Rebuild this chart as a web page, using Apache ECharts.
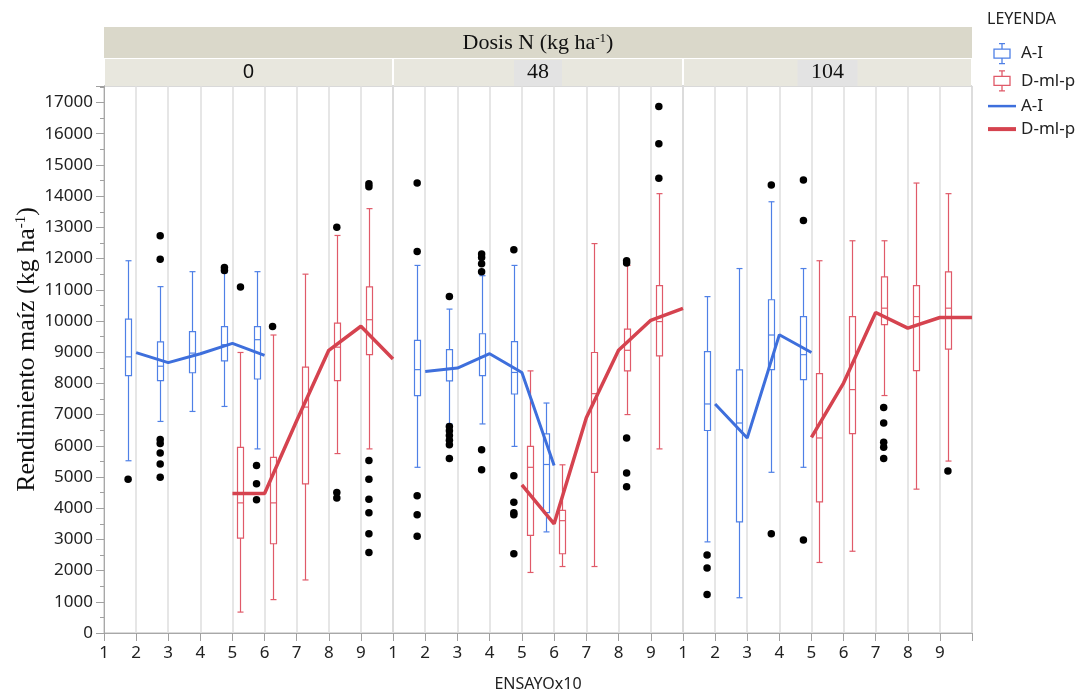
<!DOCTYPE html>
<html>
<head>
<meta charset="utf-8">
<title>Rendimiento maíz por ensayo</title>
<script src="https://cdn.jsdelivr.net/npm/echarts@6/dist/echarts.min.js"></script>
<style>
  html, body { margin: 0; padding: 0; background: #fff; }
  #main { width: 1077px; height: 693px; }
</style>
</head>
<body>
<div id="main"></div>
<script>
// panels: Dosis N (kg ha-1)
var dosis = ['0', '48', '104'];

// boxes: [ensayo position, low whisker, Q1, median, Q3, high whisker]
var aiBox0 = [
  [1.75, 5520, 8250, 8850, 10060, 11930],
  [2.75, 6780, 8090, 8550, 9330, 11100],
  [3.75, 7100, 8340, 8970, 9660, 11580],
  [4.75, 7260, 8720, 9240, 9820, 11540],
  [5.75, 5900, 8140, 9400, 9820, 11580]
];
var dmlBox0 = [
  [5.25, 670, 3040, 4170, 5950, 8990],
  [6.25, 1070, 2860, 4170, 5630, 9550],
  [7.25, 1700, 4780, 7240, 8520, 11500],
  [8.25, 5750, 8090, 9160, 9930, 12740],
  [9.25, 5900, 8920, 10040, 11090, 13600]
];
var aiBox48 = [
  [1.75, 5310, 7610, 8440, 9380, 11780],
  [2.75, 6700, 8080, 8480, 9080, 10380],
  [3.75, 6700, 8250, 8860, 9590, 11450],
  [4.75, 5980, 7660, 8350, 9340, 11780],
  [5.75, 3240, 3860, 5400, 6380, 7370]
];
var dmlBox48 = [
  [5.25, 1940, 3130, 5310, 5980, 8400],
  [6.25, 2130, 2540, 3600, 3930, 5390],
  [7.25, 2130, 5150, 7670, 8990, 12480],
  [8.25, 7000, 8400, 9060, 9740, 11780],
  [9.25, 5900, 8880, 9980, 11130, 14080]
];
var aiBox104 = [
  [1.75, 2920, 6490, 7340, 9020, 10780],
  [2.75, 1130, 3560, 6730, 8430, 11680],
  [3.75, 5150, 8440, 9550, 10680, 13820],
  [4.75, 5310, 8120, 8920, 10140, 11680]
];
var dmlBox104 = [
  [5.25, 2260, 4200, 6250, 8310, 11930],
  [6.25, 2620, 6390, 7800, 10140, 12570],
  [7.25, 7610, 9880, 10410, 11410, 12570],
  [8.25, 4610, 8410, 10140, 11130, 14420],
  [9.25, 5510, 9100, 10410, 11570, 14080]
];

// mean lines: [ensayo, rendimiento]
var aiMean0 = [[2, 8985], [3, 8665], [4, 8950], [5, 9280], [6, 8900]];
var dmlMean0 = [[5, 4470], [6, 4470], [7, 6800], [8, 9060], [9, 9830], [10, 8780]];
var aiMean48 = [[2, 8380], [3, 8490], [4, 8950], [5, 8350], [6, 5370]];
var dmlMean48 = [[5, 4750], [6, 3500], [7, 6900], [8, 9060], [9, 10020], [10, 10400]];
var aiMean104 = [[2, 7340], [3, 6250], [4, 9560], [5, 8990]];
var dmlMean104 = [[5, 6270], [6, 8010], [7, 10270], [8, 9770], [9, 10110], [10, 10110]];

// outliers: [ensayo position, rendimiento]
var out0 = [
  [1.75, 4930],
  [2.75, 12730], [2.75, 11980], [2.75, 6200], [2.75, 6070], [2.75, 5770], [2.75, 5420], [2.75, 4990],
  [4.75, 11710], [4.75, 11620],
  [5.25, 11090],
  [5.75, 5370], [5.75, 4780], [5.75, 4270],
  [6.25, 9820],
  [8.25, 13000], [8.25, 4500], [8.25, 4330],
  [9.25, 14400], [9.25, 14300], [9.25, 5530], [9.25, 4930], [9.25, 4290], [9.25, 3850], [9.25, 3180], [9.25, 2580]
];
var out48 = [
  [1.75, 14420], [1.75, 12230], [1.75, 4400], [1.75, 3790], [1.75, 3100],
  [2.75, 10780], [2.75, 6620], [2.75, 6480], [2.75, 6330], [2.75, 6180], [2.75, 6030], [2.75, 5590],
  [3.75, 12150], [3.75, 12030], [3.75, 11830], [3.75, 11580], [3.75, 5870], [3.75, 5230],
  [4.75, 12280], [4.75, 5040], [4.75, 4190], [4.75, 3850], [4.75, 3790], [4.75, 2540],
  [8.25, 11930], [8.25, 11860], [8.25, 6250], [8.25, 5130], [8.25, 4690],
  [9.25, 16870], [9.25, 15680], [9.25, 14570]
];
var out104 = [
  [1.75, 2500], [1.75, 2080], [1.75, 1230],
  [3.75, 14360], [3.75, 3180],
  [4.75, 14520], [4.75, 13220], [4.75, 2980],
  [7.25, 7230], [7.25, 6730], [7.25, 6110], [7.25, 5950], [7.25, 5590],
  [9.25, 5190]
];

var panels = [
  {ai: aiBox0, dml: dmlBox0, aiMean: aiMean0, dmlMean: dmlMean0, out: out0},
  {ai: aiBox48, dml: dmlBox48, aiMean: aiMean48, dmlMean: dmlMean48, out: out48},
  {ai: aiBox104, dml: dmlBox104, aiMean: aiMean104, dmlMean: dmlMean104, out: out104}
];

var AI_BOX = '#4f80e6', AI_LINE = '#3e6fdc';
var DML_BOX = '#e05a69', DML_LINE = '#d5434f';
var SANS = 'Noto Sans', SERIF = 'Liberation Serif';

// layout of the three facets
var gridLeft = [104, 393, 683];
var gridWidth = [289, 290, 289];
var gridTop = 86, gridHeight = 547;

function boxRenderer(color) {
  return function (params, api) {
    var x = api.value(0);
    var lo = api.coord([x, api.value(1)]);
    var q1 = api.coord([x, api.value(2)]);
    var md = api.coord([x, api.value(3)]);
    var q3 = api.coord([x, api.value(4)]);
    var hi = api.coord([x, api.value(5)]);
    var cx = Math.round(lo[0]) + 0.5;
    var st = {stroke: color, fill: 'transparent', lineWidth: 1.2};
    function seg(x1, y1, x2, y2) {
      return {type: 'line', shape: {x1: x1, y1: y1, x2: x2, y2: y2}, style: st};
    }
    return {
      type: 'group',
      children: [
        seg(cx, hi[1], cx, q3[1]),
        seg(cx, q1[1], cx, lo[1]),
        seg(cx - 3, hi[1], cx + 3, hi[1]),
        seg(cx - 3, lo[1], cx + 3, lo[1]),
        {type: 'rect', shape: {x: cx - 3, y: q3[1], width: 6, height: q1[1] - q3[1]}, style: st},
        seg(cx - 3, md[1], cx + 3, md[1])
      ]
    };
  };
}

var grids = [], xAxes = [], yAxes = [], series = [];
panels.forEach(function (p, i) {
  grids.push({
    left: gridLeft[i], top: gridTop, width: gridWidth[i], height: gridHeight,
    containLabel: false, outerBoundsMode: 'none',
    show: true, borderColor: '#b4b4b4', borderWidth: 1, backgroundColor: 'transparent'
  });
  xAxes.push({
    gridIndex: i, type: 'value', min: 1, max: 10, interval: 1,
    name: i === 1 ? 'ENSAYOx10' : '',
    nameLocation: 'middle', nameGap: 43,
    nameTextStyle: {fontFamily: SANS, fontSize: 16, color: '#222'},
    axisLine: {show: true, onZero: false, lineStyle: {color: '#a8a8a8', width: 1}},
    axisTick: {show: true, length: 8, lineStyle: {color: '#a0a0a0'}},
    axisLabel: {
      fontFamily: SANS, fontSize: 17, color: '#222', margin: 12,
      formatter: function (v) { return v === 10 ? '' : String(v); }
    },
    splitLine: {show: true, lineStyle: {color: '#dedede', width: 1.5}}
  });
  yAxes.push({
    gridIndex: i, type: 'value', min: 0, max: 17530, interval: 1000,
    name: i === 0 ? 'Rendimiento maíz (kg ha{sup|-1})' : '',
    nameLocation: 'middle', nameGap: 64, nameRotate: 90,
    nameTextStyle: {
      fontFamily: SERIF, fontSize: 26, color: '#111', padding: [0, 0, 0, 20],
      rich: {sup: {fontFamily: SERIF, fontSize: 15, color: '#111', verticalAlign: 'top', padding: [0, 0, 10, 0]}}
    },
    axisLine: {show: i === 0, onZero: false, lineStyle: {color: '#a8a8a8'}},
    axisTick: {show: i === 0, length: 8, lineStyle: {color: '#a0a0a0'}},
    minorTick: {show: i === 0, splitNumber: 2, length: 4, lineStyle: {color: '#a0a0a0'}},
    axisLabel: {
      show: i === 0, fontFamily: SANS, fontSize: 17, color: '#222', margin: 11,
      formatter: function (v) { return String(v); }
    },
    splitLine: {show: false},
    minorSplitLine: {show: false}
  });
  series.push({
    name: 'A-I box', type: 'custom', xAxisIndex: i, yAxisIndex: i,
    renderItem: boxRenderer(AI_BOX), itemStyle: {color: AI_BOX},
    encode: {x: 0, y: [1, 2, 3, 4, 5]}, data: p.ai, z: 2
  });
  series.push({
    name: 'D-ml-p box', type: 'custom', xAxisIndex: i, yAxisIndex: i,
    renderItem: boxRenderer(DML_BOX), itemStyle: {color: DML_BOX},
    encode: {x: 0, y: [1, 2, 3, 4, 5]}, data: p.dml, z: 2
  });
  series.push({
    name: 'A-I line', type: 'line', xAxisIndex: i, yAxisIndex: i,
    data: p.aiMean, symbol: 'none', z: 3,
    lineStyle: {color: AI_LINE, width: 3}, itemStyle: {color: AI_LINE}
  });
  series.push({
    name: 'D-ml-p line', type: 'line', xAxisIndex: i, yAxisIndex: i,
    data: p.dmlMean, symbol: 'none', z: 3,
    lineStyle: {color: DML_LINE, width: 3.5}, itemStyle: {color: DML_LINE}
  });
  series.push({
    name: 'outliers', type: 'scatter', xAxisIndex: i, yAxisIndex: i,
    data: p.out, symbolSize: 7.5, z: 4,
    itemStyle: {color: '#000', opacity: 1}
  });
});

var boxIcon = 'path://M8,0 L8,5.5 M5,0 L11,0 M0,5.5 L16,5.5 L16,14.5 L0,14.5 Z M8,14.5 L8,20 M5,20 L11,20';
var thinLineIcon = 'path://M0,0 L28,0 L28,2.5 L0,2.5 Z';
var thickLineIcon = 'path://M0,0 L28,0 L28,4 L0,4 Z';

// facet strips
var stripColor = '#dad8ca', subStripColor = '#e8e7de';
var graphics = [
  {type: 'rect', shape: {x: 104, y: 27, width: 868, height: 31}, style: {fill: stripColor}, silent: true},
  {
    type: 'text', x: 538, y: 43, silent: true,
    style: {
      text: 'Dosis N (kg ha{sup|-1})', fontFamily: SERIF, fontSize: 22, fill: '#111',
      align: 'center', verticalAlign: 'middle',
      rich: {sup: {fontFamily: SERIF, fontSize: 13, fill: '#111', verticalAlign: 'top', padding: [0, 0, 9, 0]}}
    }
  }
];
dosis.forEach(function (d, i) {
  var cx = gridLeft[i] + gridWidth[i] / 2;
  graphics.push({
    type: 'rect', shape: {x: gridLeft[i] + 1, y: 59, width: gridWidth[i] - 2, height: 27},
    style: {fill: subStripColor}, silent: true
  });
  if (i > 0) {
    var w = d.length * 12 + 24;
    graphics.push({
      type: 'rect', shape: {x: cx - w / 2, y: 60, width: w, height: 26},
      style: {fill: '#e3e3e3'}, silent: true
    });
  }
  graphics.push({
    type: 'text', x: cx, y: 72, silent: true,
    style: {
      text: d, fontFamily: i === 0 ? SANS : SERIF, fontSize: i === 0 ? 20 : 22, fill: '#111',
      align: 'center', verticalAlign: 'middle'
    }
  });
});

var legendLabels = {'A-I box': 'A-I', 'D-ml-p box': 'D-ml-p', 'A-I line': 'A-I', 'D-ml-p line': 'D-ml-p'};

var option = {
  backgroundColor: '#fff',
  animation: false,
  title: {
    text: 'LEYENDA', left: 982, top: 6,
    textStyle: {fontFamily: SANS, fontSize: 16, fontWeight: 'normal', color: '#222'}
  },
  legend: {
    orient: 'vertical', left: 983, top: 38,
    itemWidth: 28, itemHeight: 20, itemGap: 6,
    textStyle: {fontFamily: SANS, fontSize: 17, color: '#222'},
    formatter: function (n) { return legendLabels[n]; },
    selectedMode: false,
    data: [
      {name: 'A-I box', icon: boxIcon, itemStyle: {color: 'transparent', borderColor: AI_BOX, borderWidth: 1.3}},
      {name: 'D-ml-p box', icon: boxIcon, itemStyle: {color: 'transparent', borderColor: DML_BOX, borderWidth: 1.3}},
      {name: 'A-I line', icon: thinLineIcon, itemStyle: {color: AI_LINE, borderWidth: 0}},
      {name: 'D-ml-p line', icon: thickLineIcon, itemStyle: {color: DML_LINE, borderWidth: 0}}
    ]
  },
  grid: grids,
  xAxis: xAxes,
  yAxis: yAxes,
  graphic: graphics,
  series: series
};

var chart = echarts.init(document.getElementById('main'));
chart.setOption(option);
</script>
</body>
</html>
